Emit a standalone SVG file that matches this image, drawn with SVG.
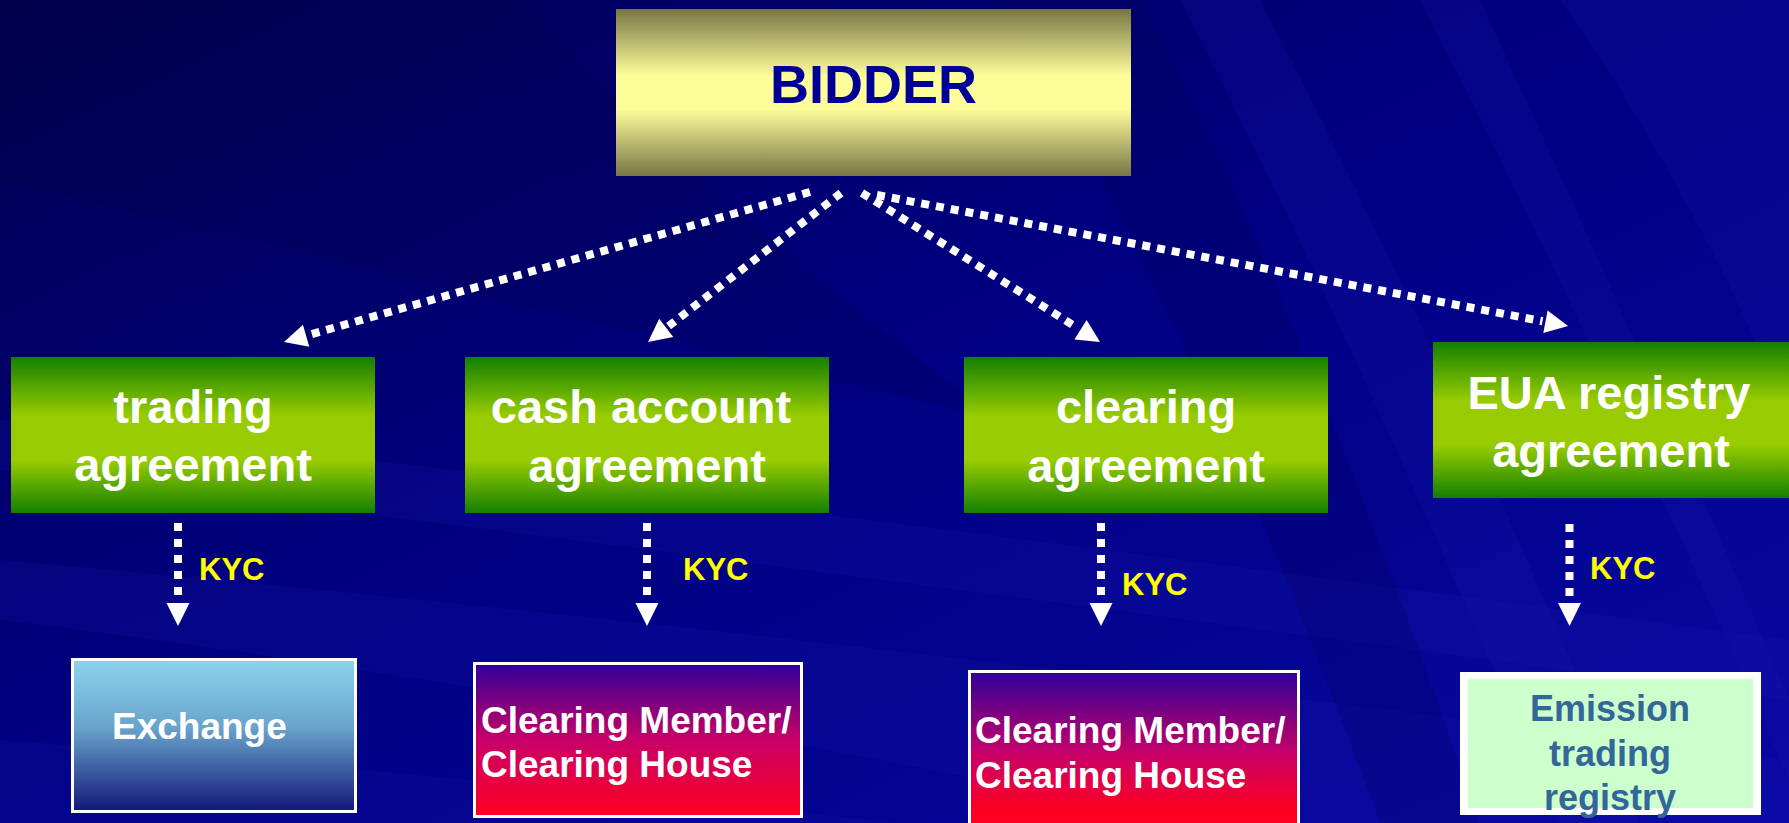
<svg xmlns="http://www.w3.org/2000/svg" width="1789" height="823" viewBox="0 0 1789 823">
<defs>
<linearGradient id="bg" x1="0" y1="0" x2="1" y2="1">
<stop offset="0" stop-color="#00004e"/>
<stop offset="0.45" stop-color="#000080"/>
<stop offset="1" stop-color="#0808a4"/>
</linearGradient>
<linearGradient id="gYellow" x1="0" y1="0" x2="0" y2="1">
<stop offset="0" stop-color="#787545"/>
<stop offset="0.4" stop-color="#fdfd9a"/>
<stop offset="0.6" stop-color="#fdfd9a"/>
<stop offset="1" stop-color="#787545"/>
</linearGradient>
<linearGradient id="gGreen" x1="0" y1="0" x2="0" y2="1">
<stop offset="0" stop-color="#138000"/>
<stop offset="0.38" stop-color="#99cc00"/>
<stop offset="0.66" stop-color="#99cc00"/>
<stop offset="1" stop-color="#138000"/>
</linearGradient>
<linearGradient id="gSky" x1="0" y1="0" x2="0" y2="1">
<stop offset="0" stop-color="#8cd4ee"/>
<stop offset="0.45" stop-color="#69a3cb"/>
<stop offset="1" stop-color="#121878"/>
</linearGradient>
<linearGradient id="gRed" x1="0" y1="0" x2="0" y2="1">
<stop offset="0" stop-color="#2e0099"/>
<stop offset="0.5" stop-color="#c80068"/>
<stop offset="1" stop-color="#ff0020"/>
</linearGradient>
<linearGradient id="gRed2" x1="0" y1="0" x2="0" y2="1">
<stop offset="0" stop-color="#2e0099"/>
<stop offset="0.5" stop-color="#c80068"/>
<stop offset="0.85" stop-color="#ff0020"/>
<stop offset="1" stop-color="#ff0020"/>
</linearGradient>
<marker id="ah" viewBox="-4 -12 28 24" markerWidth="28" markerHeight="24" refX="-3" refY="0" orient="auto" markerUnits="userSpaceOnUse">
<path d="M0,-11.5 L23,0 L0,11.5 Z" fill="#ffffff"/>
</marker>
<style>
.conn{fill:none;stroke:#ffffff;stroke-width:8;stroke-dasharray:8 7;}
.vconn{fill:none;stroke:#ffffff;stroke-width:8;stroke-dasharray:8 8;}
.t{font-family:"Liberation Sans",Arial,sans-serif;font-weight:bold;}
.wt{fill:#ffffff;font-size:47px;text-anchor:middle;}
.kyc{fill:#ffff00;font-size:31px;}
.box{fill:#ffffff;font-size:37px;}
.streak{fill:#1a1ab0;opacity:0.18;}
.streakd{fill:#000040;opacity:0.18;}
</style>
</defs>

<rect x="0" y="0" width="1789" height="823" fill="url(#bg)"/>
<g id="background-streaks">
<path class="streakd" d="M0,0 L520,0 Q700,200 1000,420 L0,180 Z"/>
<path class="streak" d="M0,420 Q600,480 1789,640 L1789,700 Q600,540 0,470 Z"/>
<path class="streak" d="M0,560 Q700,620 1789,760 L1789,823 L1200,823 Q500,680 0,620 Z"/>
<path class="streak" d="M1180,0 L1260,0 Q1420,300 1640,823 L1560,823 Q1350,330 1180,0 Z"/>
<path class="streak" d="M1420,0 L1480,0 Q1620,300 1789,700 L1789,780 Q1590,330 1420,0 Z"/>
<path class="streak" d="M1560,0 L1789,0 L1789,420 Q1700,200 1560,0 Z"/>
<path class="streakd" d="M1000,0 L1140,0 Q1300,300 1480,823 L1380,823 Q1200,330 1000,0 Z"/>
<path class="streak" d="M0,740 Q400,770 900,823 L0,823 Z"/>
</g>

<g id="connectors">
<path class="conn" d="M810,192 L309,334.9" marker-end="url(#ah)"/>
<path class="conn" d="M841,193 L668.6,326.1" marker-end="url(#ah)"/>
<path class="conn" d="M862,193 L1078,328.2" marker-end="url(#ah)"/>
<path class="conn" d="M877,195 L1542.5,321.2" marker-end="url(#ah)"/>
<path class="vconn" d="M178,523 L178,600" marker-end="url(#ah)"/>
<path class="vconn" d="M647,523 L647,600" marker-end="url(#ah)"/>
<path class="vconn" d="M1101,523 L1101,600" marker-end="url(#ah)"/>
<path class="vconn" d="M1569.5,524 L1569.5,600" marker-end="url(#ah)"/>
<text class="t kyc" x="199" y="580">KYC</text>
<text class="t kyc" x="683" y="580">KYC</text>
<text class="t kyc" x="1122" y="595">KYC</text>
<text class="t kyc" x="1590" y="579">KYC</text>
</g>

<g id="bidder">
<rect x="616" y="9" width="515" height="167" fill="url(#gYellow)"/>
<text class="t" x="873.5" y="103" fill="#000099" font-size="54" text-anchor="middle">BIDDER</text>
</g>

<g id="trading-agreement">
<rect x="11" y="357" width="364" height="156" fill="url(#gGreen)"/>
<text class="t wt" x="193" y="423">trading</text>
<text class="t wt" x="193" y="481">agreement</text>
</g>

<g id="cash-account-agreement">
<rect x="465" y="357" width="364" height="156" fill="url(#gGreen)"/>
<text class="t wt" x="641" y="423">cash account</text>
<text class="t wt" x="647" y="482">agreement</text>
</g>

<g id="clearing-agreement">
<rect x="964" y="357" width="364" height="156" fill="url(#gGreen)"/>
<text class="t wt" x="1146" y="423">clearing</text>
<text class="t wt" x="1146" y="482">agreement</text>
</g>

<g id="eua-registry-agreement">
<rect x="1433" y="342" width="356" height="156" fill="url(#gGreen)"/>
<text class="t wt" x="1609" y="409">EUA registry</text>
<text class="t wt" x="1611" y="467">agreement</text>
</g>

<g id="exchange">
<rect x="72.5" y="659.5" width="283" height="152" fill="url(#gSky)" stroke="#ffffff" stroke-width="3"/>
<text class="t box" x="112" y="739">Exchange</text>
</g>

<g id="clearing-member-1">
<rect x="474.5" y="663.5" width="327" height="153" fill="url(#gRed)" stroke="#ffffff" stroke-width="3"/>
<text class="t box" x="481" y="733">Clearing Member/</text>
<text class="t box" x="481" y="777">Clearing House</text>
</g>

<g id="clearing-member-2">
<rect x="969.5" y="671.5" width="329" height="165" fill="url(#gRed2)" stroke="#ffffff" stroke-width="3"/>
<text class="t box" x="975" y="743">Clearing Member/</text>
<text class="t box" x="975" y="788">Clearing House</text>
</g>

<g id="emission-trading-registry">
<rect x="1460" y="672" width="301" height="143" fill="#ffffff"/>
<rect x="1468" y="679" width="285" height="129" fill="#ccffcc"/>
<text class="t" x="1610" y="721" fill="#336699" font-size="36" text-anchor="middle">Emission</text>
<text class="t" x="1610" y="766" fill="#336699" font-size="36" text-anchor="middle">trading</text>
<text class="t" x="1610" y="810" fill="#336699" font-size="36" text-anchor="middle">registry</text>
</g>
</svg>
